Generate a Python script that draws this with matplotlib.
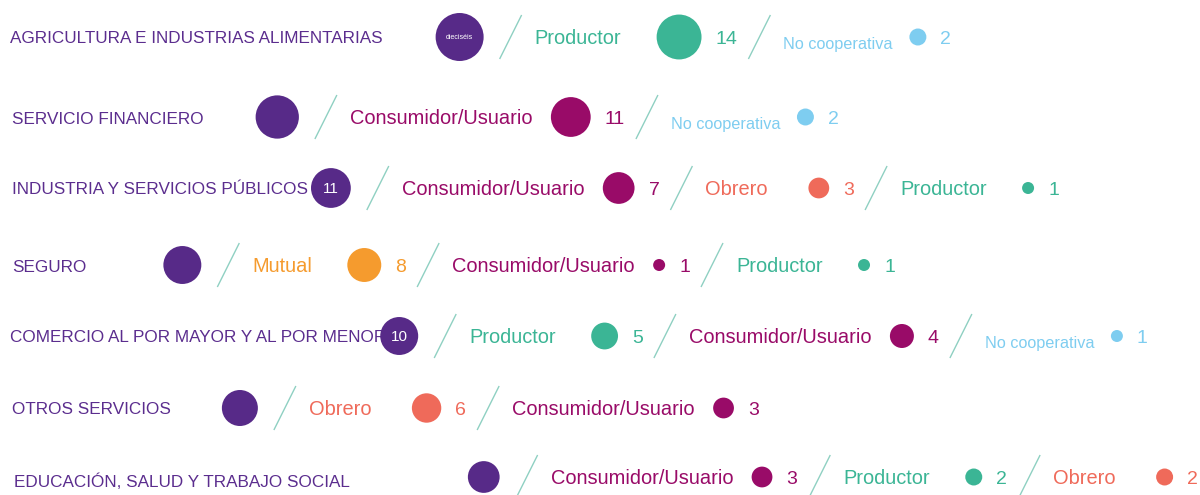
import matplotlib
matplotlib.use("Agg")
import matplotlib.pyplot as plt
from matplotlib.patches import Circle
import numpy as np

# ---------------- data ----------------
sectors = [
    "AGRICULTURA E INDUSTRIAS ALIMENTARIAS",
    "SERVICIO FINANCIERO",
    "INDUSTRIA Y SERVICIOS PÚBLICOS",
    "SEGURO",
    "COMERCIO AL POR MAYOR Y AL POR MENOR",
    "OTROS SERVICIOS",
    "EDUCACIÓN, SALUD Y TRABAJO SOCIAL",
]
sector_totals = [16, 13, 11, 10, 10, 9, 7]
hub_labels = ["dieciséis", "", "11", "", "10", "", ""]
types_per_sector = [
    ["Productor", "No cooperativa"],
    ["Consumidor/Usuario", "No cooperativa"],
    ["Consumidor/Usuario", "Obrero", "Productor"],
    ["Mutual", "Consumidor/Usuario", "Productor"],
    ["Productor", "Consumidor/Usuario", "No cooperativa"],
    ["Obrero", "Consumidor/Usuario"],
    ["Consumidor/Usuario", "Productor", "Obrero"],
]
counts_per_sector = [
    [14, 2],
    [11, 2],
    [7, 3, 1],
    [8, 1, 1],
    [5, 4, 1],
    [6, 3],
    [3, 2, 2],
]

# ---------------- style / layout ----------------
FONT = "Liberation Sans"
PURPLE = "#572a88"
LABEL_COLOR = "#5b2d8e"
SLASH_COLOR = "#8fd0c2"
type_colors = {
    "Productor": "#3bb595",
    "No cooperativa": "#7ecdf0",
    "Consumidor/Usuario": "#990b68",
    "Obrero": "#ef6a5a",
    "Mutual": "#f59b2e",
}
type_fontsize = {k: 14.4 for k in type_colors}
type_fontsize["No cooperativa"] = 11.7
type_dy = {k: 7 for k in type_colors}
type_dy["No cooperativa"] = 12
type_slot = {
    "Productor": 122,
    "No cooperativa": 126,
    "Consumidor/Usuario": 201,
    "Obrero": 103,
    "Mutual": 95,
}
row_y = [37, 117, 188, 265, 336, 408, 477]
label_dy = [6, 7, 6, 7, 6, 6, 10]
label_x = [10, 12, 12, 12, 10, 12, 14]
label_gap = [53, 52, 3, 77, -6, 51, 118]
RADIUS_UNIT = 6.0          # px radius per sqrt(count)
HUB_TO_SLASH = 16
SLASH_TO_TEXT = 35
NUM_GAP = 14
NUM_TO_SLASH = 11
SLASH_W, SLASH_H = 22, 44

W, H = 1200, 495
fig = plt.figure(figsize=(W / 100, H / 100), dpi=100)
ax = fig.add_axes([0, 0, 1, 1])
ax.set_xlim(0, W)
ax.set_ylim(H, 0)
ax.axis("off")
renderer = fig.canvas.get_renderer()


def width_of(t):
    bb = t.get_window_extent(renderer=renderer)
    return bb.width


def slash(x, y):
    ax.plot([x, x + SLASH_W], [y + SLASH_H / 2, y - SLASH_H / 2],
            color=SLASH_COLOR, lw=1.0, solid_capstyle="butt", zorder=1)


for i, name in enumerate(sectors):
    y = row_y[i]
    lab = ax.text(label_x[i], y + label_dy[i], name, family=FONT, fontsize=12.35,
                  color=LABEL_COLOR, ha="left", va="baseline", zorder=2)
    lab_end = label_x[i] + width_of(lab)
    r_hub = RADIUS_UNIT * np.sqrt(sector_totals[i])
    cx = lab_end + label_gap[i] + r_hub
    ax.add_patch(Circle((cx, y), r_hub, color=PURPLE, ec="none", zorder=3))
    if hub_labels[i]:
        fs = 5 if len(hub_labels[i]) > 3 else 11
        ax.text(cx, y + (2 if fs == 5 else 5), hub_labels[i], family=FONT,
                fontsize=fs, color="white", ha="center", va="baseline", zorder=4)
    x = cx + r_hub + HUB_TO_SLASH
    for t, n in zip(types_per_sector[i], counts_per_sector[i]):
        slash(x, y)
        tx = x + SLASH_TO_TEXT
        col = type_colors[t]
        ax.text(tx, y + type_dy[t], t, family=FONT, fontsize=type_fontsize[t],
                color=col, ha="left", va="baseline", zorder=2)
        r = RADIUS_UNIT * np.sqrt(n)
        ccx = tx + type_slot[t] + r
        ax.add_patch(Circle((ccx, y), r, color=col, ec="none", zorder=3))
        nt = ax.text(ccx + r + NUM_GAP, y + 7, str(n), family=FONT, fontsize=14,
                     color=col, ha="left", va="baseline", zorder=2)
        x = ccx + r + NUM_GAP + width_of(nt) + NUM_TO_SLASH

fig.savefig("out.png", dpi=100, facecolor="white")
